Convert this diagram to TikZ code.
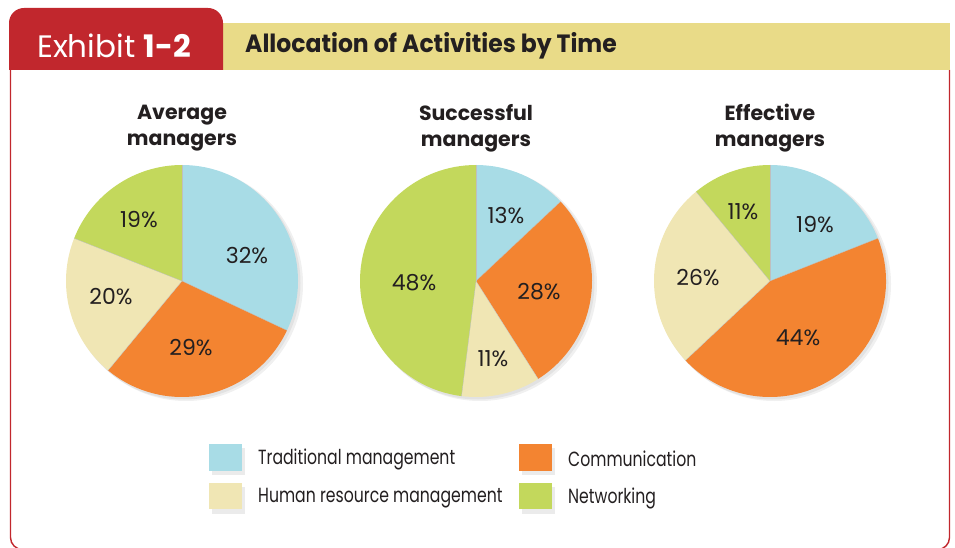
\documentclass[tikz,border=0pt]{standalone}
\usepackage{fontspec}
\setmainfont{Poppins}
\newfontfamily\legfont{Poppins}[FakeStretch=0.765]
\newfontfamily\ttlfont{Poppins}[FakeStretch=0.94]
\definecolor{exred}{HTML}{C1272D}
\definecolor{exyellow}{HTML}{E9DB88}
\definecolor{tradblue}{HTML}{A8DCE6}
\definecolor{commorange}{HTML}{F38431}
\definecolor{hrbeige}{HTML}{F0E6B4}
\definecolor{netgreen}{HTML}{C3D85C}
\definecolor{txt}{HTML}{231F20}
\newcommand{\pieslice}[5]{%
  \fill[#5] (#1,#2) -- ++(#3:116) arc[start angle=#3, end angle=#4, radius=116] -- cycle;
  \draw[black!25, line width=0.3pt] (#1,#2) -- ++(#3:116);}
\tikzset{
  pct/.style={font=\fontsize{22}{22}\selectfont, text=txt, inner sep=0pt},
  ttl/.style={font=\bfseries\fontsize{20.5}{26}\selectfont, text=txt, align=center, inner sep=0pt},
  leg/.style={font=\legfont\fontsize{20.5}{20.5}\selectfont, text=txt, anchor=west, inner sep=0pt},
  shadowc/.style={fill=black, opacity=0.06}
}
\begin{document}
\begin{tikzpicture}[x=1pt,y=-1pt]
\useasboundingbox (0,0) rectangle (955,548);
\clip (0,0) rectangle (955,548);
% frame
\draw[exred, line width=1.4pt, rounded corners=12] (10.5,70) -- (10.5,549.5) -- (949.5,549.5) -- (949.5,70);
% tab and band
\fill[exyellow] (222,23) rectangle (950,70);
\fill[exred, rounded corners=15] (9,70) -- (9,8) -- (223,8) [sharp corners] -- (223,70) -- cycle;
\node[font=\fontsize{31}{31}\selectfont, text=white, anchor=west, inner sep=0pt] (exh) at (37,46) {Exhibit \textbf{1-2}};
\node[font=\ttlfont\bfseries\fontsize{25}{25}\selectfont, text=txt, anchor=west, inner sep=0pt] (title) at (245,46) {Allocation of Activities by Time};
% titles
\node[ttl] (t1) at (182,128) {Average\\managers};
\node[ttl] (t2) at (476,128) {Successful\\managers};
\node[ttl] (t3) at (770,128) {Effective\\managers};
% shadows
\foreach \cx in {182,476,770}{
  \fill[shadowc] (\cx+4,284) circle (117);
  \fill[shadowc] (\cx+2,283) circle (116.5);
}
% Average
\pieslice{182}{281}{-90}{25.2}{tradblue}
\pieslice{182}{281}{25.2}{129.6}{commorange}
\pieslice{182}{281}{129.6}{201.6}{hrbeige}
\pieslice{182}{281}{201.6}{270}{netgreen}
% Successful
\pieslice{476}{281}{-90}{-43.2}{tradblue}
\pieslice{476}{281}{-43.2}{57.6}{commorange}
\pieslice{476}{281}{57.6}{97.2}{hrbeige}
\pieslice{476}{281}{97.2}{270}{netgreen}
% Effective
\pieslice{770}{281}{-90}{-21.6}{tradblue}
\pieslice{770}{281}{-21.6}{136.8}{commorange}
\pieslice{770}{281}{136.8}{230.4}{hrbeige}
\pieslice{770}{281}{230.4}{270}{netgreen}
\foreach \cx in {182,476,770}{
  \draw[black!25, line width=0.3pt] (\cx,281) -- ++(-90:116);
}
% percentages
\node[pct] (a1) at (247,256) {32\%};
\node[pct] (a2) at (191,348) {29\%};
\node[pct] (a3) at (111,297) {20\%};
\node[pct] (a4) at (139,220) {19\%};
\node[pct] (s1) at (506,216) {13\%};
\node[pct] (s2) at (539,292) {28\%};
\node[pct] (s3) at (493,359) {11\%};
\node[pct] (s4) at (414,283) {48\%};
\node[pct] (e1) at (815,225) {19\%};
\node[pct] (e2) at (798,338) {44\%};
\node[pct] (e3) at (698,278) {26\%};
\node[pct] (e4) at (743,212) {11\%};
% legend
\foreach \x/\y in {209/444,209/483,519/444,519/483}{
  \fill[black, opacity=0.08] (\x+3,\y+4) rectangle (\x+36,\y+31);
}
\fill[tradblue] (209,444) rectangle (242,471);
\fill[hrbeige] (209,483) rectangle (242,509);
\fill[commorange] (519,444) rectangle (552,471);
\fill[netgreen] (519,483) rectangle (552,509);
\node[leg] (l1) at (258,459) {Traditional management};
\node[leg] (l2) at (258,498) {Human resource management};
\node[leg] (l3) at (568,459) {Communication};
\node[leg] (l4) at (568,498) {Networking};
\end{tikzpicture}
\end{document}
